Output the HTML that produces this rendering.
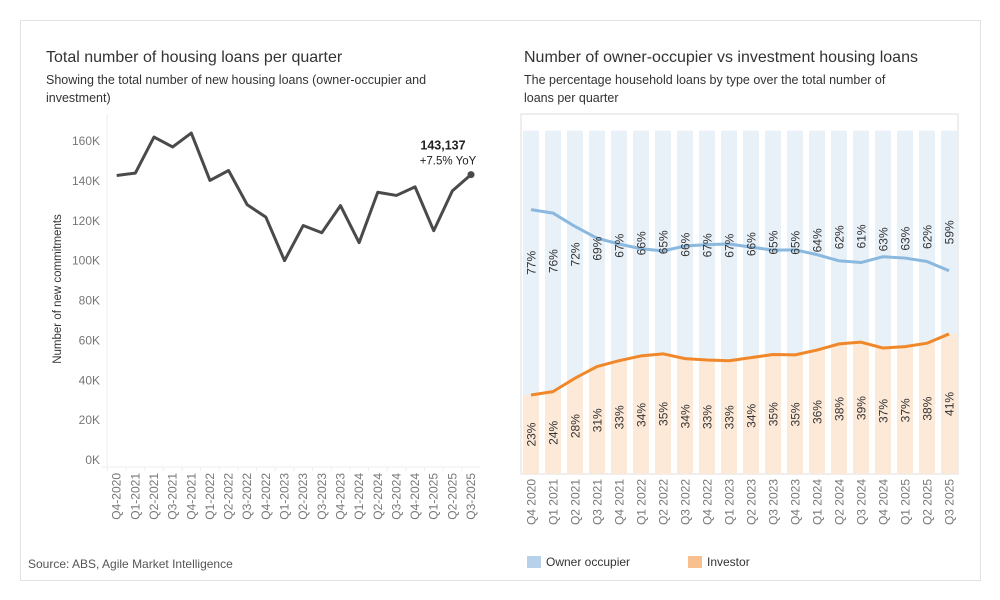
<!DOCTYPE html>
<html><head><meta charset="utf-8"><style>
body{margin:0;background:#fff;font-family:"Liberation Sans",sans-serif;}
#wrap{position:relative;width:1000px;height:600px;overflow:hidden;}
.box{position:absolute;left:20px;top:20px;width:959px;height:559px;border:1px solid #e2e2e2;}
.t{position:absolute;color:#333;}
</style></head><body>
<div id="wrap">
<div class="box"></div>
<div class="t" style="left:46px;top:49px;font-size:16px;">Total number of housing loans per quarter</div>
<div class="t" style="left:46px;top:71px;font-size:12.5px;width:430px;line-height:18px;">Showing the total number of new housing loans (owner-occupier and investment)</div>
<div class="t" style="left:524px;top:49px;font-size:16px;">Number of owner-occupier vs investment housing loans</div>
<div class="t" style="left:524px;top:71px;font-size:12.5px;width:385px;line-height:18px;">The percentage household loans by type over the total number of loans per quarter</div>
<div class="t" style="left:28px;top:557px;font-size:12px;color:#555;">Source: ABS, Agile Market Intelligence</div>
<svg id="svg" width="1000" height="600" style="position:absolute;left:0;top:0"></svg>
</div>
<script>
const quarters=["Q4","Q1","Q2","Q3","Q4","Q1","Q2","Q3","Q4","Q1","Q2","Q3","Q4","Q1","Q2","Q3","Q4","Q1","Q2","Q3"];
const years=["2020","2021","2021","2021","2021","2022","2022","2022","2022","2023","2023","2023","2023","2024","2024","2024","2024","2025","2025","2025"];
const totalLoans=[142.7,143.9,162,157,164,140.2,145.2,128,121.8,100,117.6,114,127.6,109,134.3,132.7,137,115,135,143.137];
const yTicks=[0,20,40,60,80,100,120,140,160];
const investorPct=[23.0,24.0,27.9,31.3,33.0,34.4,35.0,33.6,33.2,33.0,33.9,34.8,34.7,36.1,37.9,38.4,36.7,37.1,38.1,40.8];
const investorLabels=["23%","24%","28%","31%","33%","34%","35%","34%","33%","33%","34%","35%","35%","36%","38%","39%","37%","37%","38%","41%"];
const ownerLabels=["77%","76%","72%","69%","67%","66%","65%","66%","67%","67%","66%","65%","65%","64%","62%","61%","63%","63%","62%","59%"];

const NS="http://www.w3.org/2000/svg";
const svg=document.getElementById('svg');
function mk(tag,attrs,parent){const e=document.createElementNS(NS,tag);for(const k in attrs)e.setAttribute(k,attrs[k]);(parent||svg).appendChild(e);return e;}

// LEFT chart
const lx=i=>116.7+i*(471-116.7)/(totalLoans.length-1);
const ly=v=>460-v*(319/160);
let e=mk('line',{x1:107,y1:114,x2:107,y2:467,stroke:'#eee'});


e=mk('line',{x1:102,y1:467,x2:480,y2:467,stroke:'#eee'});


yTicks.forEach(v=>{const t=mk('text',{x:100,y:ly(v)+4,'text-anchor':'end','font-size':12,fill:'#777'});t.textContent=v+'K';

});
e=mk('text',{x:0,y:0,transform:'translate(61,289) rotate(-90)','text-anchor':'middle','font-size':11.5,fill:'#333'});e.textContent='Number of new commitments';


quarters.forEach((q,i)=>{const t=mk('text',{x:0,y:0,transform:`translate(${lx(i)+4},473) rotate(-90)`,'text-anchor':'end','font-size':12,fill:'#777'});t.textContent=q+'-'+years[i];


mk('line',{x1:lx(i)-9.3,y1:467,x2:lx(i)-9.3,y2:471,stroke:'#eee'});});
e=mk('polyline',{points:totalLoans.map((v,i)=>lx(i)+','+ly(v)).join(' '),fill:'none',stroke:'#4a4a4a','stroke-width':3,'stroke-linejoin':'round'});


const li=totalLoans.length-1;
e=mk('circle',{cx:lx(li),cy:ly(totalLoans[li]),r:3.5,fill:'#4a4a4a'});


e=mk('text',{x:lx(li)-28,y:ly(totalLoans[li])-25,'text-anchor':'middle','font-size':12.5,'font-weight':'bold',fill:'#222'});e.textContent=Math.round(totalLoans[li]*1000).toLocaleString('en-US');


e=mk('text',{x:lx(li)-23,y:ly(totalLoans[li])-10,'text-anchor':'middle','font-size':11.5,fill:'#222'});e.textContent='+7.5%  YoY';



// RIGHT chart
e=mk('rect',{x:521,y:114,width:437,height:360,fill:'none',stroke:'#ddd'});


const plotTop=130.7,plotBot=474,H=plotBot-plotTop;
const bx=i=>523+i*22;
const py=p=>plotBot-H*p/100;
investorPct.forEach((p,i)=>{
 let r=mk('rect',{x:bx(i),y:plotTop,width:16,height:py(p)-plotTop,fill:'#e8f0f8'});
 
 
 r=mk('rect',{x:bx(i),y:py(p),width:16,height:plotBot-py(p),fill:'#fde9d8'});
 
 
});
e=mk('polyline',{points:investorPct.map((p,i)=>(bx(i)+8)+','+py(100-p)).join(' '),fill:'none',stroke:'#8ab8de','stroke-width':3,'stroke-linejoin':'round'});


e=mk('polyline',{points:investorPct.map((p,i)=>(bx(i)+8)+','+py(p)).join(' '),fill:'none',stroke:'#f0882a','stroke-width':3,'stroke-linejoin':'round'});


investorPct.forEach((p,i)=>{
 const cx=bx(i)+8+4.5;
 let t=mk('text',{x:0,y:0,transform:`translate(${cx},${(plotTop+py(p))/2}) rotate(-90)`,'text-anchor':'middle','font-size':12,fill:'#333'});t.textContent=ownerLabels[i];
 
 
 t=mk('text',{x:0,y:0,transform:`translate(${cx},${(plotBot+py(p))/2}) rotate(-90)`,'text-anchor':'middle','font-size':12,fill:'#333'});t.textContent=investorLabels[i];
 
 
 t=mk('text',{x:0,y:0,transform:`translate(${cx},479) rotate(-90)`,'text-anchor':'end','font-size':12,fill:'#777'});t.textContent=quarters[i]+' '+years[i];
 
 
});
// legend
e=mk('rect',{x:527,y:556,width:14,height:12,fill:'#b7d1ea'});


e=mk('text',{x:546,y:566,'font-size':12,fill:'#333'});e.textContent='Owner occupier';


e=mk('rect',{x:688,y:556,width:14,height:12,fill:'#f9c08f'});


e=mk('text',{x:707,y:566,'font-size':12,fill:'#333'});e.textContent='Investor';


</script>
</body></html>
